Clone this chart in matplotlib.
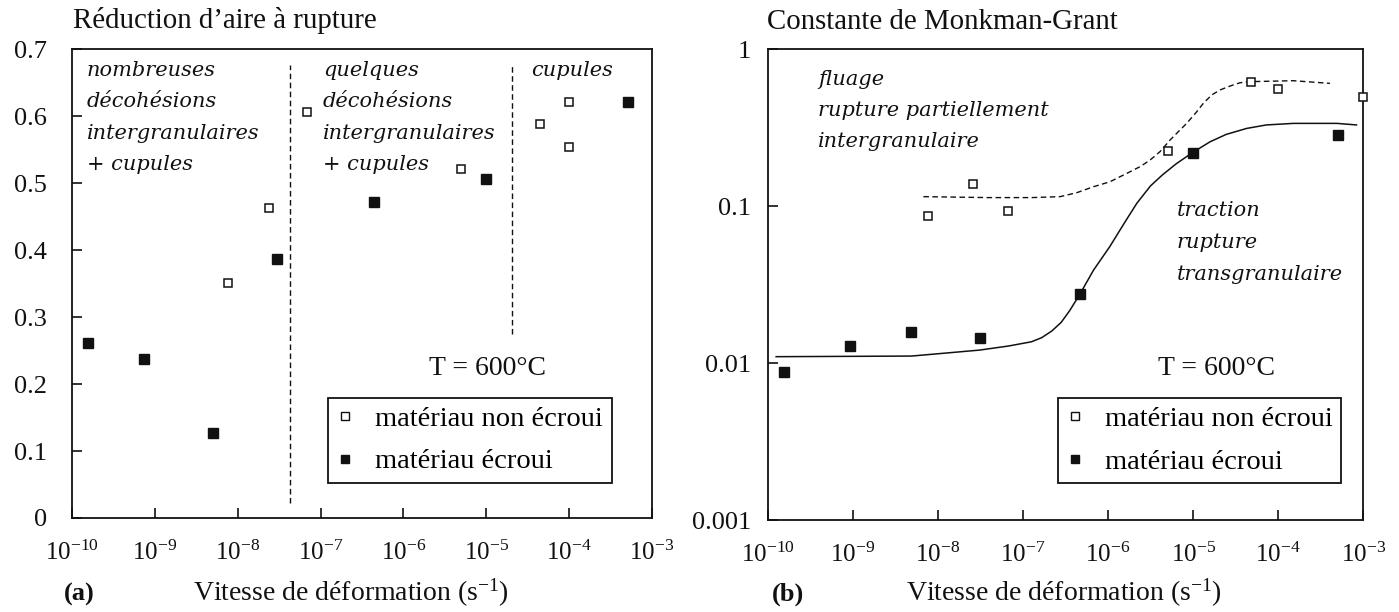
import matplotlib
matplotlib.use("Agg")
import numpy as np
import matplotlib.pyplot as plt
from matplotlib.lines import Line2D
from matplotlib.ticker import NullLocator

plt.rcParams['font.family'] = ['Liberation Serif', 'DejaVu Serif']
plt.rcParams['mathtext.fontset'] = 'custom'
plt.rcParams['mathtext.rm'] = 'Liberation Serif'
plt.rcParams['mathtext.it'] = 'Liberation Serif:italic'
plt.rcParams['mathtext.bf'] = 'Liberation Serif:bold'

# ---------------- (a) reduction of area at rupture ----------------
ra_rate_annealed = [7.6e-9, 2.4e-8, 6.8e-8, 5.0e-6, 4.5e-5, 1.0e-4, 1.0e-4]
ra_value_annealed = [0.351, 0.463, 0.606, 0.521, 0.589, 0.621, 0.554]
ra_rate_worked = [1.57e-10, 7.4e-10, 5.1e-9, 3.0e-8, 4.4e-7, 1.0e-5, 5.2e-4]
ra_value_worked = [0.261, 0.237, 0.127, 0.387, 0.472, 0.506, 0.621]

# fracture-regime boundaries (strain rate, lower / upper reduction of area)
regime_bound_rate = [4.3e-8, 2.05e-5]
regime_bound_low = [0.022, 0.275]
regime_bound_high = [0.677, 0.677]
regime_labels = [
    ["nombreuses", "décohésions", "intergranulaires", "+ cupules"],
    ["quelques", "décohésions", "intergranulaires", "+ cupules"],
    ["cupules"],
]

ra_ticks = [0, 0.1, 0.2, 0.3, 0.4, 0.5, 0.6, 0.7]
ra_tick_labels = ["0", "0.1", "0.2", "0.3", "0.4", "0.5", "0.6", "0.7"]

# ---------------- (b) Monkman-Grant constant ----------------
mg_rate_annealed = [7.7e-9, 2.6e-8, 6.7e-8, 5.0e-6, 4.8e-5, 1.0e-4, 1.0e-3]
mg_value_annealed = [0.0867, 0.1386, 0.0936, 0.225, 0.616, 0.561, 0.494]
mg_rate_worked = [1.57e-10, 9.2e-10, 4.9e-9, 3.1e-8, 4.7e-7, 1.0e-5, 5.0e-4]
mg_value_worked = [0.00878, 0.01285, 0.0157, 0.01445, 0.0276, 0.219, 0.283]

# trend curves, given as log10(strain rate), log10(constant)
creep_log_rate = [-8.17, -7.40, -6.90, -6.564, -6.368, -6.172, -5.977, -5.781,
                  -5.624, -5.506, -5.389, -5.271, -5.174, -5.076, -4.958,
                  -4.880, -4.782, -4.684, -4.566, -4.449, -4.331, -3.822, -3.392]
creep_log_value = [-0.939, -0.945, -0.945, -0.939, -0.914, -0.876, -0.844, -0.791,
                   -0.748, -0.706, -0.652, -0.578, -0.525, -0.472, -0.398,
                   -0.344, -0.291, -0.259, -0.234, -0.213, -0.206, -0.200, -0.217]
tensile_log_rate = [-9.90, -8.31, -7.95, -7.51, -7.17, -6.90, -6.78, -6.66,
                    -6.55, -6.45, -6.33, -6.17, -5.98, -5.80, -5.66, -5.50,
                    -5.36, -5.20, -5.01, -4.80, -4.61, -4.37, -4.14, -3.82,
                    -3.31, -3.08]
tensile_log_value = [-1.959, -1.955, -1.938, -1.917, -1.891, -1.864, -1.838, -1.795,
                     -1.740, -1.665, -1.560, -1.407, -1.258, -1.100, -0.980, -0.870,
                     -0.800, -0.730, -0.659, -0.589, -0.542, -0.504, -0.482, -0.472,
                     -0.472, -0.482]

mg_ticks = [0.001, 0.01, 0.1, 1]
mg_tick_labels = ["0.001", "0.01", "0.1", "1"]

rate_ticks = [1e-10, 1e-9, 1e-8, 1e-7, 1e-6, 1e-5, 1e-4, 1e-3]
rate_tick_labels = [r"10$^{\mathregular{%d}}$" % e for e in range(-10, -2)]

series_names = ["matériau non écroui", "matériau écroui"]
temperature_label = "T = 600°C"
xlabel_text = r"Vitesse de déformation (s$^{\mathregular{-1}}$)"

INK = "#111111"
ITALIC = dict(family="DejaVu Serif", style="italic", fontsize=15, color=INK)

fig = plt.figure(figsize=(13.99, 6.12), dpi=100)
ax_a = fig.add_axes([0.0515, 0.1536, 0.4144, 0.7658])
ax_b = fig.add_axes([0.5487, 0.1503, 0.4258, 0.7691])


def style_axes(ax, ypad):
    ax.set_xscale("log")
    ax.set_xlim(1e-10, 1e-3)
    ax.set_xticks(rate_ticks, rate_tick_labels)
    ax.xaxis.set_minor_locator(NullLocator())
    ax.yaxis.set_minor_locator(NullLocator())
    for s in ax.spines.values():
        s.set_linewidth(1.3)
        s.set_color(INK)
    ax.tick_params(axis="both", which="major", direction="in", length=7,
                   width=1.2, color=INK, labelcolor=INK)
    ax.tick_params(axis="x", labelsize=18, pad=16)
    ax.tick_params(axis="y", labelsize=19, pad=ypad)


def add_points(ax, xo, yo, xf, yf):
    ax.plot(xo, yo, ls="none", marker="s", ms=6.0, mew=1.1, mfc="white",
            mec=INK, zorder=5, clip_on=False)
    ax.plot(xf, yf, ls="none", marker="s", ms=7.2, mew=1.0, mfc=INK,
            mec=INK, zorder=5, clip_on=False)


def add_legend(ax, anchor):
    handles = [
        Line2D([], [], ls="none", marker="s", ms=5.4, mew=1.0, mfc="white", mec=INK),
        Line2D([], [], ls="none", marker="s", ms=6.0, mew=1.0, mfc=INK, mec=INK),
    ]
    leg = ax.legend(handles, series_names, loc="upper left", bbox_to_anchor=anchor,
                    borderaxespad=0, fontsize=20.5, frameon=True, fancybox=False,
                    handlelength=0.6, handletextpad=0.75, labelspacing=0.58,
                    borderpad=0.3)
    fr = leg.get_frame()
    fr.set_edgecolor(INK)
    fr.set_linewidth(1.3)
    fr.set_alpha(1)


# ---- panel (a)
style_axes(ax_a, ypad=18)
ax_a.set_ylim(0, 0.7)
ax_a.set_yticks(ra_ticks, ra_tick_labels)
for xb, lo, hi in zip(regime_bound_rate, regime_bound_low, regime_bound_high):
    ax_a.plot([xb, xb], [lo, hi], color=INK, lw=1.0, ls=(0, (4, 2.5)))
add_points(ax_a, ra_rate_annealed, ra_value_annealed, ra_rate_worked, ra_value_worked)

regime_x = [0.0254, 0.433, 0.792]
line_y = [0.943, 0.876, 0.809, 0.743]
for x0, lines in zip(regime_x, regime_labels):
    for y0, txt in zip(line_y, lines):
        ax_a.text(x0, y0, txt, transform=ax_a.transAxes, va="baseline", **ITALIC)
ax_a.text(0.716, 0.305, temperature_label, transform=ax_a.transAxes,
          ha="center", va="baseline", fontsize=20, color=INK)
add_legend(ax_a, (0.442, 0.257))

# ---- panel (b)
style_axes(ax_b, ypad=12)
ax_b.set_yscale("log")
ax_b.set_ylim(1e-3, 1)
ax_b.set_yticks(mg_ticks, mg_tick_labels)
ax_b.yaxis.set_minor_locator(NullLocator())
ax_b.plot(10 ** np.array(creep_log_rate), 10 ** np.array(creep_log_value),
          color=INK, lw=1.0, ls=(0, (4, 2.5)))
ax_b.plot(10 ** np.array(tensile_log_rate), 10 ** np.array(tensile_log_value),
          color=INK, lw=1.1)
add_points(ax_b, mg_rate_annealed, mg_value_annealed, mg_rate_worked, mg_value_worked)

for y0, txt in zip([0.924, 0.858, 0.792],
                   ["fluage", "rupture partiellement", "intergranulaire"]):
    ax_b.text(0.085, y0, txt, transform=ax_b.transAxes, va="baseline", **ITALIC)
for y0, txt in zip([0.646, 0.578, 0.510],
                   ["traction", "rupture", "transgranulaire"]):
    ax_b.text(0.687, y0, txt, transform=ax_b.transAxes, va="baseline", **ITALIC)
ax_b.text(0.754, 0.308, temperature_label, transform=ax_b.transAxes,
          ha="center", va="baseline", fontsize=20, color=INK)
add_legend(ax_b, (0.487, 0.260))

# ---- titles, axis labels and panel letters
fig.text(73 / 1399, 1 - 28 / 612, "Réduction d’aire à rupture",
         fontsize=20.8, va="baseline", color=INK)
fig.text(767 / 1399, 1 - 29 / 612, "Constante de Monkman-Grant",
         fontsize=20.8, va="baseline", color=INK)
fig.text(351 / 1399, 1 - 601 / 612, xlabel_text, fontsize=20,
         ha="center", va="baseline", color=INK)
fig.text(1064 / 1399, 1 - 601 / 612, xlabel_text, fontsize=20,
         ha="center", va="baseline", color=INK)
fig.text(79 / 1399, 1 - 601 / 612, "(a)", fontsize=19, fontweight="bold",
         ha="center", va="baseline", color=INK)
fig.text(788 / 1399, 1 - 601 / 612, "(b)", fontsize=19, fontweight="bold",
         ha="center", va="baseline", color=INK)

fig.savefig("out.png", dpi=100, facecolor="white")
